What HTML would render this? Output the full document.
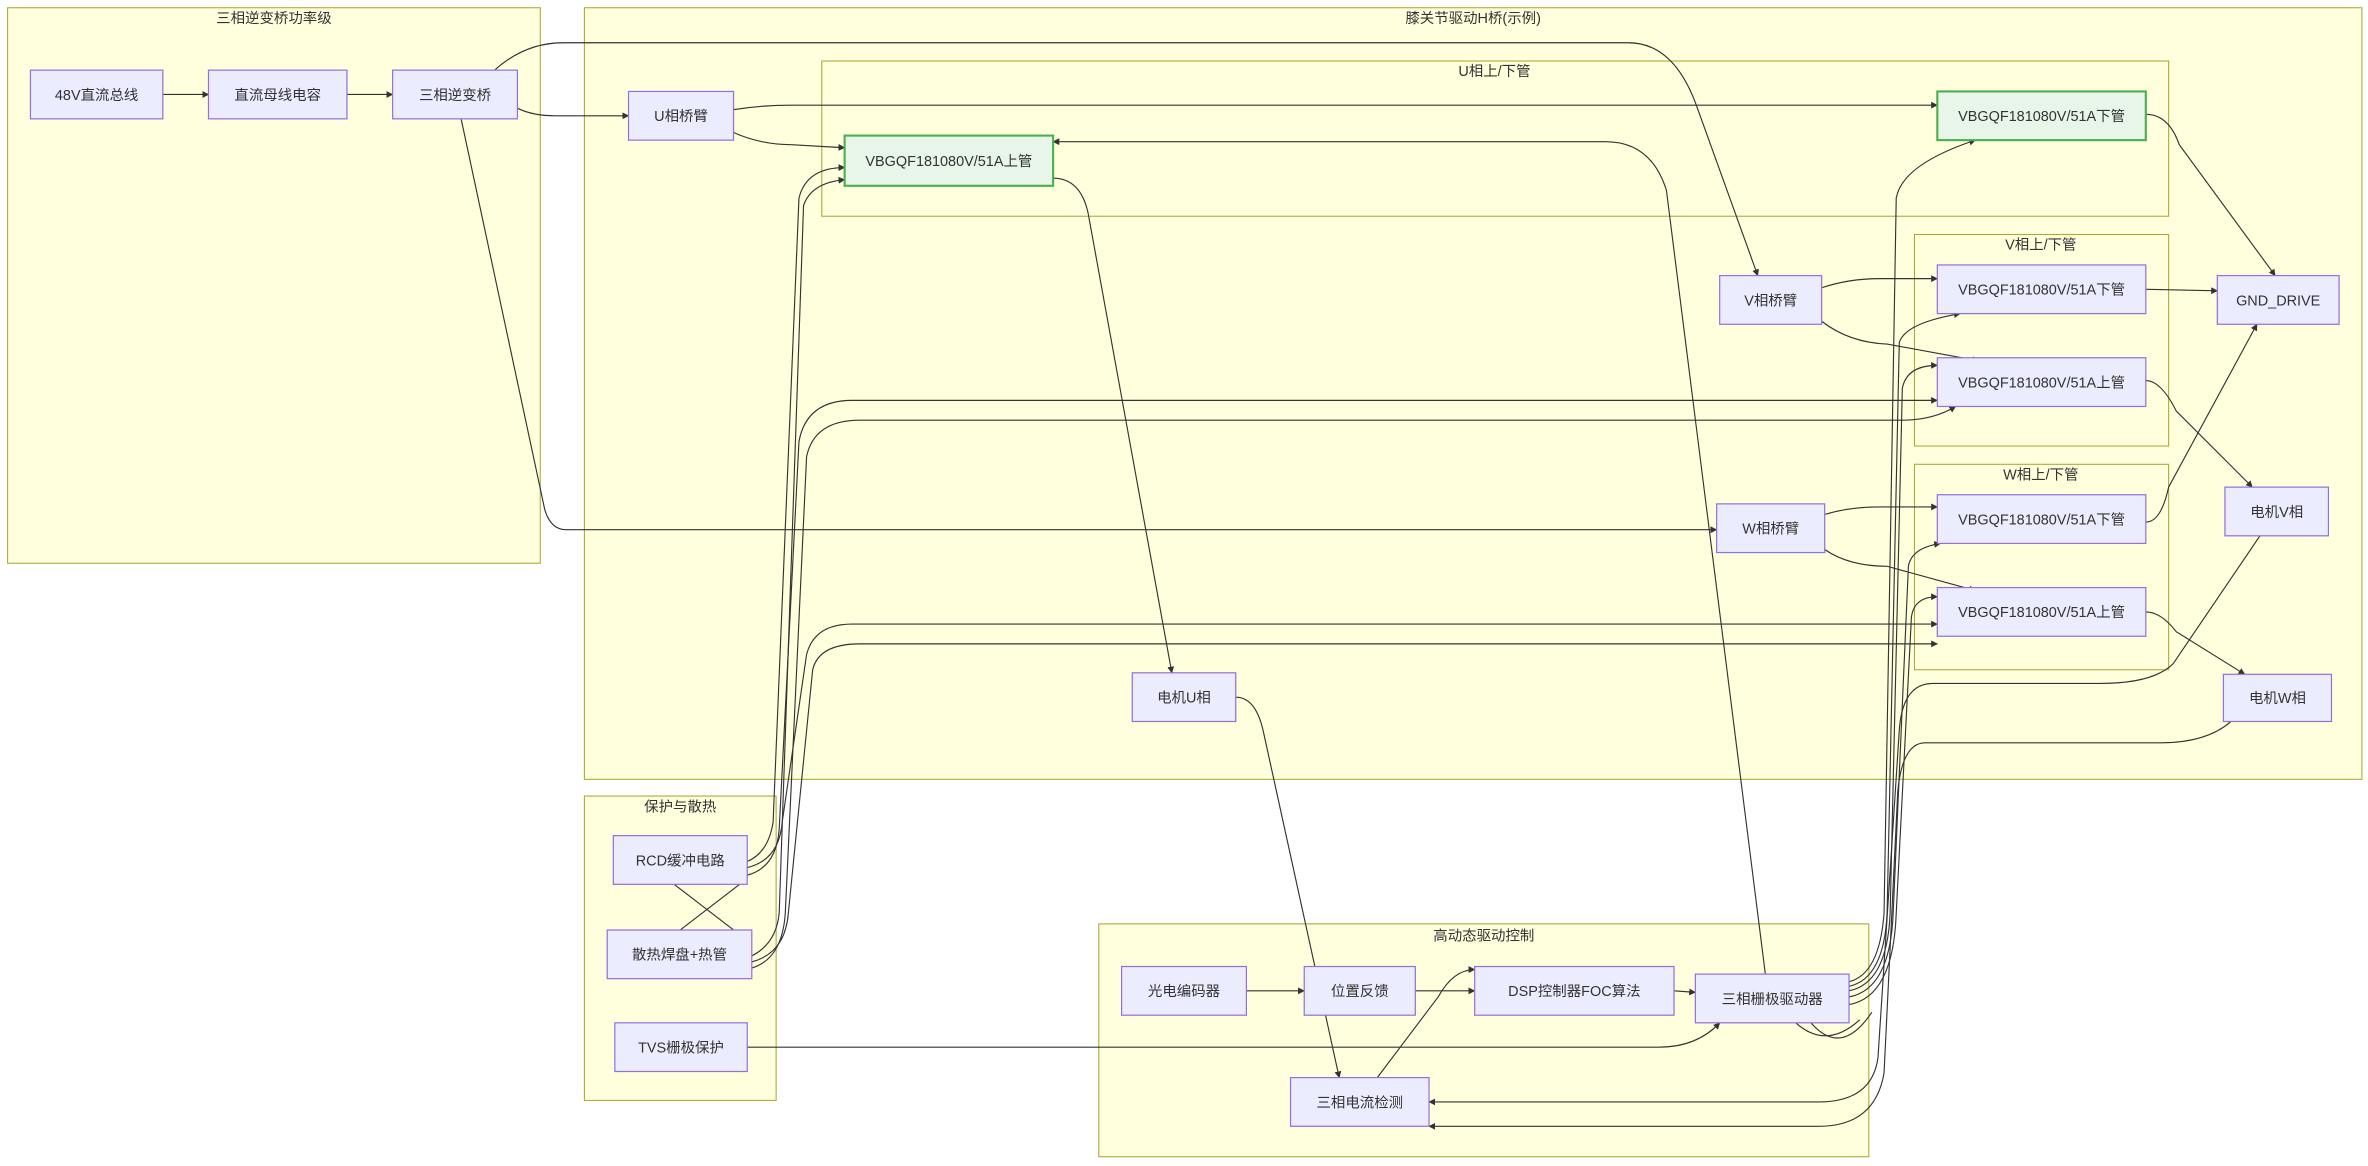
<!DOCTYPE html>
<html><head><meta charset="utf-8"><style>
html,body{margin:0;padding:0;background:#fff;}
svg{display:block;}
text{font-family:"Liberation Sans","Noto Sans CJK SC",sans-serif;font-size:9.5px;fill:#333;}
.c{fill:#ffffde;stroke:#aaaa33;stroke-width:0.7;}
.n{fill:#ececff;stroke:#9370db;stroke-width:0.8;}
.g{fill:#e8f5e9;stroke:#4caf50;stroke-width:1.4;}
.e{fill:none;stroke:#333;stroke-width:0.75;}
</style></head><body>
<svg width="2368" height="1166" viewBox="0 0 1556 766" xmlns="http://www.w3.org/2000/svg">
<defs><marker id="a" viewBox="0 0 10 10" refX="9" refY="5" markerWidth="6" markerHeight="6" orient="auto"><path d="M0,0L10,5L0,10z" fill="#333"/></marker></defs>
<!-- clusters -->
<rect class="c" x="5" y="5" width="350" height="365"/>
<text x="180" y="15" text-anchor="middle">三相逆变桥功率级</text>
<rect class="c" x="384" y="5" width="1168" height="507"/>
<text x="968" y="15" text-anchor="middle">膝关节驱动H桥(示例)</text>
<rect class="c" x="540" y="40" width="885" height="102"/>
<text x="982" y="50" text-anchor="middle">U相上/下管</text>
<rect class="c" x="1258" y="154" width="167" height="139"/>
<text x="1341" y="164" text-anchor="middle">V相上/下管</text>
<rect class="c" x="1258" y="305" width="167" height="135"/>
<text x="1341" y="315" text-anchor="middle">W相上/下管</text>
<rect class="c" x="384" y="523" width="126" height="200"/>
<text x="447" y="533" text-anchor="middle">保护与散热</text>
<rect class="c" x="722" y="607" width="506" height="153"/>
<text x="975" y="618" text-anchor="middle">高动态驱动控制</text>
<!-- edges -->
<g class="e" marker-end="url(#a)">
<path d="M107,62L137,62"/>
<path d="M228,62L258,62"/>
<path d="M340,71Q350,76 365,76L413,76"/>
<path d="M325,46Q345,28 370,28L1070,28Q1100,28 1115,70L1155,181"/>
<path d="M303,78L358,335Q362,348 372,348L1128,348"/>
<path d="M482,72Q500,69 520,69L1273,69"/>
<path d="M482,87Q500,95 520,95L555,97"/>
<path d="M1160,640L1095,125Q1085,93 1055,93L692,93"/>
<path d="M692,117Q710,117 715,140L770,442"/>
<path d="M1410,75Q1425,75 1432,95L1495,181"/>
<path d="M1197,189Q1215,183 1235,183L1273,183"/>
<path d="M1197,211Q1215,225 1240,226L1300,237"/>
<path d="M1410,190L1457,191"/>
<path d="M1410,250Q1420,250 1430,270L1480,320"/>
<path d="M1199,338Q1215,333 1235,333L1273,333"/>
<path d="M1199,361Q1215,372 1240,372L1298,388"/>
<path d="M1410,343Q1420,343 1425,320L1483,213"/>
<path d="M1410,402Q1420,402 1430,415L1475,443"/>
<path d="M1485,352L1428,436Q1415,449 1380,449L1270,449Q1250,449 1248,480L1234,695Q1230,724 1195,724L939,724"/>
<path d="M1466,474Q1450,488 1420,488L1265,488Q1250,488 1247,520L1238,705Q1232,740 1195,740L939,740"/>
<path d="M812,458Q825,458 830,480L880,708"/>
<path d="M905,708L945,655Q955,637 969,637"/>
<path d="M930,651L969,651"/>
<path d="M819,651L857,651"/>
<path d="M1100,651L1114,652"/>
<path d="M491,688L1090,688Q1115,688 1130,672"/>
<path d="M1215,645Q1235,640 1238,600L1246,130Q1250,108 1298,92"/>
<path d="M1215,648Q1238,643 1240,600L1248,225Q1252,212 1288,206"/>
<path d="M1215,651Q1240,646 1242,600L1250,255Q1253,240 1273,240"/>
<path d="M1215,655Q1242,650 1244,600L1254,372Q1256,360 1275,357"/>
<path d="M1215,660Q1244,655 1246,600L1256,405Q1258,392 1273,392"/>
<path d="M491,566Q505,560 508,540L525,130Q530,110 555,110"/>
<path d="M494,628Q510,620 512,600L528,135Q533,120 555,118"/>
<path d="M491,575Q510,570 512,545L525,290Q530,263 560,263L1273,263"/>
<path d="M494,636Q514,630 516,600L530,300Q535,276 565,276L1250,276Q1270,276 1285,267"/>
<path d="M491,570Q512,565 514,540L530,430Q535,410 560,410L1273,410"/>
<path d="M494,632Q516,626 518,600L534,440Q538,423 565,423L1273,423"/>
</g>
<g class="e">
<path d="M443,581L482,611"/>
<path d="M447,611L486,581"/>
<path d="M1180,672Q1200,690 1222,670"/>
<path d="M1190,672Q1210,695 1230,665"/>
</g>
<!-- nodes -->
<rect class="n" x="20" y="46" width="87" height="32"/><text x="63.5" y="65.5" text-anchor="middle">48V直流总线</text>
<rect class="n" x="137" y="46" width="91" height="32"/><text x="182.5" y="65.5" text-anchor="middle">直流母线电容</text>
<rect class="n" x="258" y="46" width="82" height="32"/><text x="299" y="65.5" text-anchor="middle">三相逆变桥</text>
<rect class="n" x="413" y="60" width="69" height="32"/><text x="447.5" y="79.5" text-anchor="middle">U相桥臂</text>
<rect class="g" x="555" y="89" width="137" height="33"/><text x="623.5" y="109" text-anchor="middle">VBGQF181080V/51A上管</text>
<rect class="g" x="1273" y="60" width="137" height="32"/><text x="1341.5" y="79.5" text-anchor="middle">VBGQF181080V/51A下管</text>
<rect class="n" x="1130" y="181" width="67" height="32"/><text x="1163.5" y="200.5" text-anchor="middle">V相桥臂</text>
<rect class="n" x="1273" y="174" width="137" height="32"/><text x="1341.5" y="193.5" text-anchor="middle">VBGQF181080V/51A下管</text>
<rect class="n" x="1273" y="235" width="137" height="32"/><text x="1341.5" y="254.5" text-anchor="middle">VBGQF181080V/51A上管</text>
<rect class="n" x="1457" y="181" width="80" height="32"/><text x="1497" y="200.5" text-anchor="middle">GND_DRIVE</text>
<rect class="n" x="1128" y="331" width="71" height="32"/><text x="1163.5" y="350.5" text-anchor="middle">W相桥臂</text>
<rect class="n" x="1273" y="325" width="137" height="32"/><text x="1341.5" y="344.5" text-anchor="middle">VBGQF181080V/51A下管</text>
<rect class="n" x="1273" y="386" width="137" height="32"/><text x="1341.5" y="405.5" text-anchor="middle">VBGQF181080V/51A上管</text>
<rect class="n" x="1462" y="320" width="68" height="32"/><text x="1496" y="339.5" text-anchor="middle">电机V相</text>
<rect class="n" x="1461" y="443" width="71" height="31"/><text x="1496.5" y="462" text-anchor="middle">电机W相</text>
<rect class="n" x="744" y="442" width="68" height="32"/><text x="778" y="461.5" text-anchor="middle">电机U相</text>
<rect class="n" x="403" y="549" width="88" height="32"/><text x="447" y="568.5" text-anchor="middle">RCD缓冲电路</text>
<rect class="n" x="399" y="611" width="95" height="32"/><text x="446.5" y="630.5" text-anchor="middle">散热焊盘+热管</text>
<rect class="n" x="404" y="672" width="87" height="32"/><text x="447.5" y="691.5" text-anchor="middle">TVS栅极保护</text>
<rect class="n" x="737" y="635" width="82" height="32"/><text x="778" y="654.5" text-anchor="middle">光电编码器</text>
<rect class="n" x="857" y="635" width="73" height="32"/><text x="893.5" y="654.5" text-anchor="middle">位置反馈</text>
<rect class="n" x="969" y="635" width="131" height="32"/><text x="1034.5" y="654.5" text-anchor="middle">DSP控制器FOC算法</text>
<rect class="n" x="1114" y="640" width="101" height="32"/><text x="1164.5" y="659.5" text-anchor="middle">三相栅极驱动器</text>
<rect class="n" x="848" y="708" width="91" height="32"/><text x="893.5" y="727.5" text-anchor="middle">三相电流检测</text>
</svg>
</body></html>
